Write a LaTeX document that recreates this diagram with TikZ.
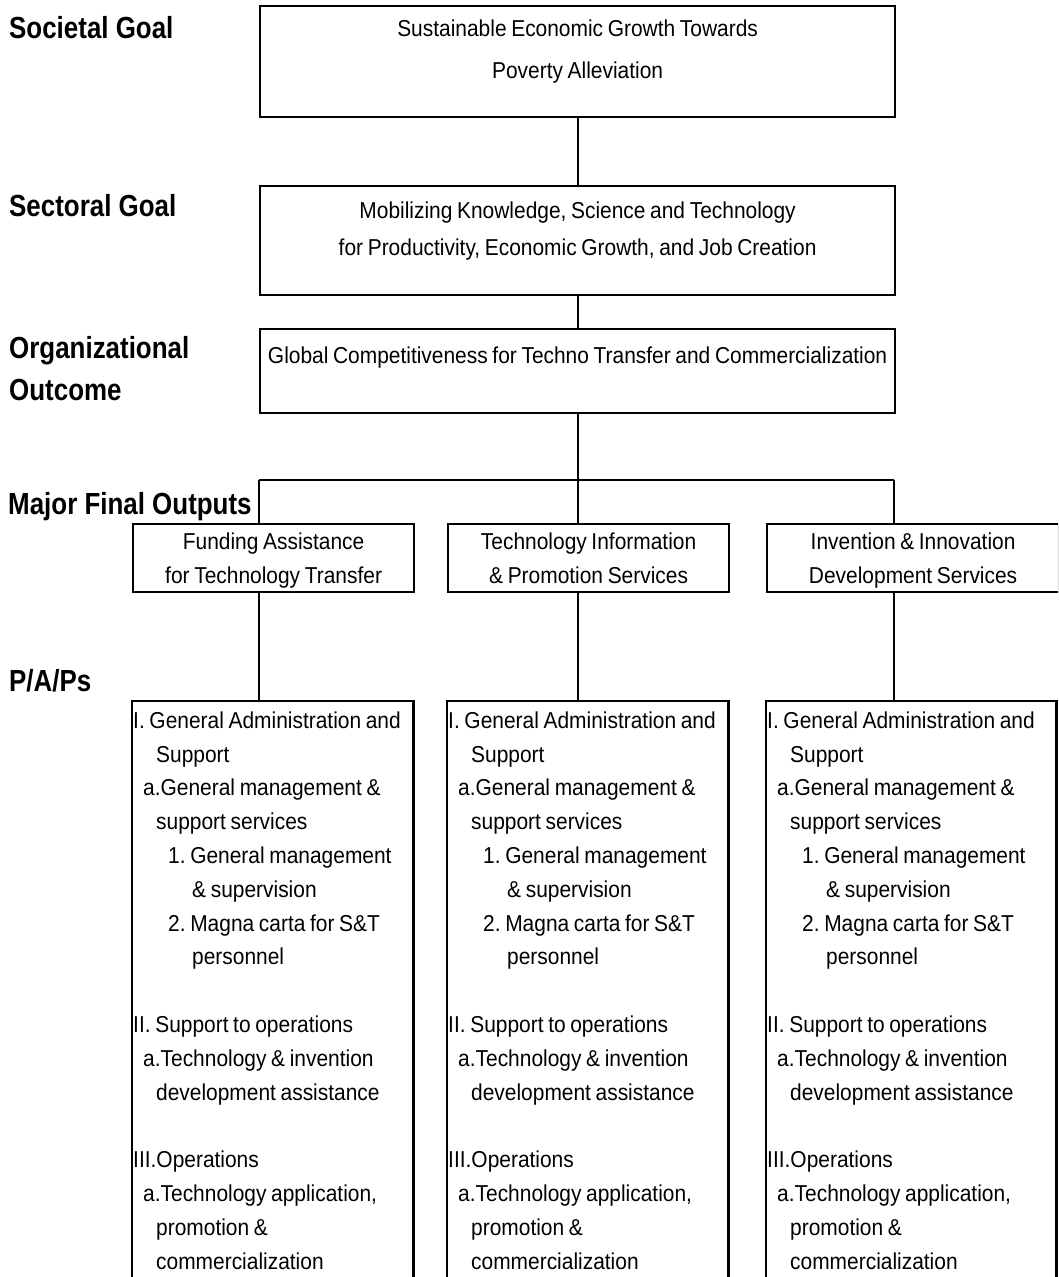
\documentclass[tikz,border=0pt]{standalone}
\usepackage{fontspec}
\setmainfont{Liberation Sans}[FakeStretch=0.91,WordSpace=0.8]
\newfontfamily\levelfont{Liberation Sans}[FakeStretch=0.85]
\usepackage{tikz}
\frenchspacing

% text of one P/A/P column
\newcommand{\paplist}{%
I. General Administration and\\
\hspace*{23pt}Support\\
\hspace*{10pt}a.General management \&\\
\hspace*{23pt}support services\\
\hspace*{35pt}1. General management\\
\hspace*{59pt}\& supervision\\
\hspace*{35pt}2. Magna carta for S\&T\\
\hspace*{59pt}personnel\\[33.8pt]
II. Support to operations\\
\hspace*{10pt}a.Technology \& invention\\
\hspace*{23pt}development assistance\\[33.8pt]
III.Operations\\
\hspace*{10pt}a.Technology application,\\
\hspace*{23pt}promotion \&\\
\hspace*{23pt}commercialization}

\begin{document}
\begin{tikzpicture}[x=1pt,y=-1pt]

%
% Styles
%
\tikzstyle{level} = [anchor=base west,inner sep=0pt,align=flush left,font=\fontsize{30.5}{42}\selectfont\levelfont\bfseries]
\tikzstyle{goalbox} = [draw,line width=2.2pt,anchor=north west,inner xsep=2pt,inner ysep=0pt,text width=631pt,align=flush center]
\tikzstyle{mfobox} = [draw,line width=2.2pt,anchor=north west,inner xsep=2pt,inner ysep=0pt,align=flush center,text height=25pt,text depth=43pt,font=\fontsize{23}{34}\selectfont]
\tikzstyle{papbox} = [anchor=north west,inner xsep=1pt,inner ysep=0pt,align=flush left,text height=27pt,text depth=600pt,font=\fontsize{23}{33.8}\selectfont]
\tikzstyle{link} = [line width=2.2pt]

\useasboundingbox (0,0) rectangle (1058,1277);
\clip (0,0) rectangle (1058,1277);

% level names
\node[level] (lsoc)  at (9, 38)  {Societal Goal};
\node[level] (lsect) at (9, 216) {Sectoral Goal};
\node[level] (lorg)  at (9, 400) {Organizational\\Outcome};
\node[level] (lmfo)  at (8, 514) {Major Final Outputs};
\node[level] (lpap)  at (9, 691) {P/A/Ps};

% goals and outcome
\node[goalbox,text height=30pt,text depth=81pt,font=\fontsize{23}{42}\selectfont] (soc) at (259, 5)
  {Sustainable Economic Growth Towards\\Poverty Alleviation};
\node[goalbox,text height=32pt,text depth=77pt,font=\fontsize{23}{37}\selectfont] (sect) at (259, 185)
  {Mobilizing Knowledge, Science and Technology\\for Productivity, Economic Growth, and Job Creation};
\node[goalbox,text height=34pt,text depth=50pt,font=\fontsize{23}{34}\selectfont] (org) at (259, 328)
  {Global Competitiveness for Techno Transfer and Commercialization};

% major final outputs
\node[mfobox,text width=277pt] (mfo1) at (132, 523) {Funding Assistance\\for Technology Transfer};
\node[mfobox,text width=277pt] (mfo2) at (447, 523) {Technology Information\\\& Promotion Services};
\node[mfobox,text width=288pt] (mfo3) at (766, 523) {Invention \& Innovation\\Development Services};

% programs, activities and projects
\node[papbox,text width=279pt] (pap1) at (132, 701) {\paplist};
\node[papbox,text width=279pt] (pap2) at (447, 701) {\paplist};
\node[papbox,text width=288pt] (pap3) at (766, 701) {\paplist};

\draw[link] (pap1.south west) -- (pap1.north west) -- (pap1.north east) -- (pap1.south east);
\draw[link] (pap2.south west) -- (pap2.north west) -- (pap2.north east) -- (pap2.south east);
\draw[link] (pap3.south west) -- (pap3.north west) -- (pap3.north east) -- (pap3.south east);

% connectors
\coordinate (busl) at (259, 480);
\coordinate (busr) at (894, 480);

\draw[link] (soc) -- (sect);
\draw[link] (sect) -- (org);
\draw[link] (busl) -- (busr);
\draw[link] (org.south) -- (org.south |- mfo2.north);
\draw[link] (busl) -- (busl |- mfo1.north);
\draw[link] (busr) -- (busr |- mfo3.north);
\draw[link] (busl |- mfo1.south) -- (busl |- pap1.north);
\draw[link] (org.south |- mfo2.south) -- (org.south |- pap2.north);
\draw[link] (busr |- mfo3.south) -- (busr |- pap3.north);

\end{tikzpicture}
\end{document}
